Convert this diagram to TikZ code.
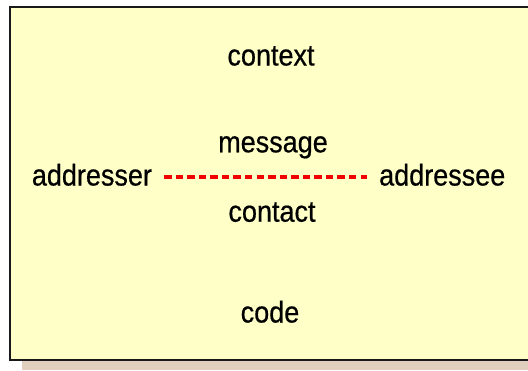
\documentclass[tikz,border=0pt]{standalone}
\usepackage{fontspec}
\setmainfont[FakeStretch=0.9,FakeBold=0.6]{Liberation Sans}
\definecolor{panelyellow}{HTML}{FFFFC8}
\definecolor{shadowtan}{HTML}{E0CFBE}
\definecolor{linkred}{HTML}{F00000}
\begin{document}
\begin{tikzpicture}[x=1pt,y=-1pt,
  lbl/.style={inner sep=0pt,anchor=base,font=\fontsize{30}{30}\selectfont},
  party/.style={lbl,anchor=base west},
  link/.style={draw=linkred,line width=3.6pt,dash pattern=on 7.4pt off 4.15pt,
    shorten <=12pt,shorten >=12pt}]
  % white page and drop shadow of the panel
  \fill[white] (0,0) rectangle (528,370);
  \fill[shadowtan] (22,19) rectangle (528,370);
  % panel, running off the right edge
  \begin{scope}
    \clip (0,0) rectangle (528,370);
    \draw[fill=panelyellow,line width=2.2pt,draw=black!90] (10,7) rectangle (560,360);
  \end{scope}
  % factors
  \node[lbl] (context) at (271,65.5) {context};
  \node[lbl] (message) at (273,152.3) {message};
  \node[lbl] (contact) at (272,221.7) {contact};
  \node[lbl] (code) at (270,322.5) {code};
  \node[party] (addresser) at (31.7,185.5) {addresser};
  \node[party] (addressee) at (379,185.5) {addressee};
  \draw[link] ([yshift=8.5pt]addresser.base east) -- ([yshift=8.5pt]addressee.base west);
  \useasboundingbox (0,0) rectangle (528,370);
\end{tikzpicture}
\end{document}
